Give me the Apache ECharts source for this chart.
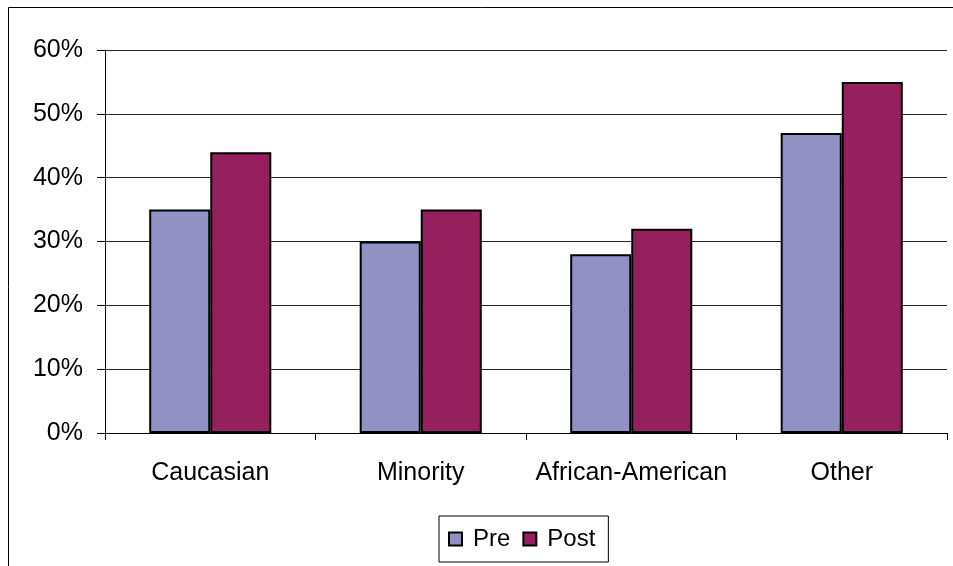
<!DOCTYPE html>
<html><head><meta charset="utf-8">
<script src="https://cdn.jsdelivr.net/npm/echarts@6/dist/echarts.min.js"></script>
<style>html,body{margin:0;padding:0;background:#fff}#c{width:953px;height:566px}</style>
</head><body><div id="c"></div>
<script>
const categories = ['Caucasian', 'Minority', 'African-American', 'Other'];
const preValues = [35, 30, 28, 47];
const postValues = [44, 35, 32, 55];
const seriesNames = ['Pre', 'Post'];

const chart = echarts.init(document.getElementById('c'));
const font = 'Liberation Sans, Arial, sans-serif';
chart.setOption({
  animation: false,
  backgroundColor: '#fff',
  graphic: [{type: 'rect', shape: {x: 8.5, y: 7.5, width: 1000, height: 1000}, style: {fill: 'none', stroke: '#000', lineWidth: 1}, z: -1}],
  grid: {left: 105, top: 50, right: 6, bottom: 133},
  legend: {
    data: seriesNames, left: 439, top: 516,
    padding: [11, 13, 11, 9], borderColor: '#000', borderWidth: 1,
    itemWidth: 13, itemHeight: 13, itemGap: 12, icon: 'rect',
    textStyle: {fontFamily: font, fontSize: 24, color: '#000', padding: [0, 0, 0, 6]}
  },
  xAxis: {
    type: 'category', data: categories,
    axisLine: {lineStyle: {color: '#000', width: 1}},
    axisTick: {show: true, length: 7, interval: 0, lineStyle: {color: '#000'}},
    axisLabel: {interval: 0, fontFamily: font, fontSize: 25, color: '#000', margin: 28}
  },
  yAxis: {
    type: 'value', min: 0, max: 60, interval: 10,
    axisLine: {show: true, lineStyle: {color: '#000', width: 1}},
    axisTick: {show: true, length: 8, lineStyle: {color: '#000'}},
    splitLine: {lineStyle: {color: '#222', width: 1}},
    axisLabel: {formatter: '{value}%', fontFamily: font, fontSize: 25, color: '#000', margin: 22}
  },
  series: [
    {name: 'Pre', type: 'bar', data: preValues, barGap: '0%', barCategoryGap: '42%',
     itemStyle: {color: '#9191C6', borderColor: '#000', borderWidth: 2}},
    {name: 'Post', type: 'bar', data: postValues, barGap: '0%', barCategoryGap: '42%',
     itemStyle: {color: '#961F5E', borderColor: '#000', borderWidth: 2}}
  ]
});
</script></body></html>
